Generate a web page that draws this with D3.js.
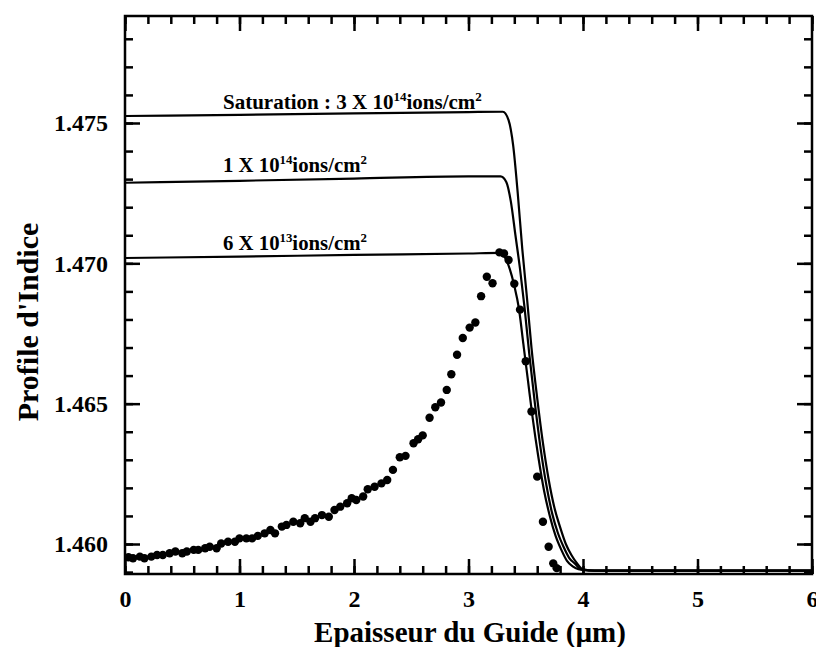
<!DOCTYPE html>
<html><head><meta charset="utf-8">
<script src="https://cdn.jsdelivr.net/npm/d3@7"></script>
<style>
body{margin:0;background:#fff;}
svg{display:block;}
text{font-family:"Liberation Serif","Times New Roman",serif;font-weight:bold;fill:#000;}
</style></head>
<body><svg id="c" width="816" height="647"></svg>
<script>
// ---------- data ----------
const xTickValues = [0, 1, 2, 3, 4, 5, 6];
const yTickValues = [1.460, 1.465, 1.470, 1.475];
const yTickLabels = ["1.460", "1.465", "1.470", "1.475"];
const xLimits = [0, 6];
const yLimits = [1.458931, 1.478812];

const measX = [0.03,0.07,0.13,0.17,0.23,0.28,0.33,0.39,0.44,0.50,0.54,0.60,0.64,0.70,0.74,0.80,0.84,0.90,0.96,1.00,
  1.06,1.11,1.16,1.22,1.27,1.31,1.37,1.41,1.47,1.53,1.57,1.62,1.66,1.72,1.78,1.83,1.88,1.94,1.98,2.02,
  2.08,2.12,2.18,2.24,2.29,2.34,2.40,2.45,2.52,2.56,2.60,2.66,2.71,2.76,2.81,2.85,2.90,2.95,3.01,3.06,
  3.11,3.16,3.21,3.27,3.31,3.35,3.40,3.45,3.50,3.55,3.60,3.65,3.70,3.74,3.77];
const measY = [1.45953,1.45949,1.45955,1.45949,1.45955,1.45961,1.45961,1.45967,1.45973,1.45967,1.45973,1.45979,1.45979,1.45985,1.45990,1.45985,1.46002,1.46008,1.46008,1.46020,
  1.46020,1.46020,1.46029,1.46038,1.46050,1.46038,1.46062,1.46068,1.46079,1.46074,1.46092,1.46079,1.46092,1.46103,1.46097,1.46121,1.46133,1.46145,1.46163,1.46157,
  1.46169,1.46195,1.46204,1.46216,1.46228,1.46264,1.46309,1.46314,1.46359,1.46373,1.46387,1.46450,1.46487,1.46504,1.46549,1.46605,1.46674,1.46734,1.46771,1.46789,
  1.46883,1.46952,1.46929,1.47039,1.47035,1.47012,1.46927,1.46835,1.46651,1.46472,1.46240,1.46079,1.45990,1.45931,1.45914];

const satX = [0,1,2,3,3.30,3.35,3.39,3.43,3.47,3.51,3.55,3.60,3.65,3.70,3.75,3.80,3.85,3.90,3.95,4.00,4.10,6];
const satY = [1.47525,1.47529,1.47534,1.47539,1.47540,1.47510,1.47420,1.47250,1.47050,1.46880,1.46700,1.46520,1.46360,1.46230,1.46130,1.46060,1.46000,1.45960,1.45930,1.45910,1.45905,1.45905];
const e14X = [0,1,2,3,3.28,3.33,3.37,3.41,3.45,3.49,3.53,3.58,3.63,3.68,3.73,3.78,3.83,3.88,3.93,3.98,4.10,6];
const e14Y = [1.47287,1.47294,1.47302,1.47310,1.47310,1.47290,1.47220,1.47100,1.46980,1.46840,1.46680,1.46500,1.46340,1.46210,1.46110,1.46040,1.45990,1.45950,1.45930,1.45910,1.45905,1.45905];
const e13X = [0,1,2,3,3.27,3.32,3.36,3.40,3.44,3.48,3.52,3.56,3.61,3.66,3.71,3.76,3.81,3.86,3.91,3.96,4.05,6];
const e13Y = [1.47019,1.47024,1.47030,1.47035,1.47037,1.47020,1.46980,1.46920,1.46840,1.46710,1.46580,1.46450,1.46310,1.46190,1.46100,1.46030,1.45980,1.45940,1.45920,1.45910,1.45905,1.45905];

// ---------- layout ----------
const svg = d3.select("#c");
const L = 125, R = 812, T = 16, B = 574;
const x = d3.scaleLinear().domain(xLimits).range([L, R]);
const y = d3.scaleLinear().domain(yLimits).range([B, T]);

const minorX = d3.range(0, 31).map(i => +(i * 0.2).toFixed(2));
const minorY = d3.range(0, 20).map(i => +(1.459 + i * 0.001).toFixed(3));

// frame
svg.append("rect").attr("x",L).attr("y",T).attr("width",R-L).attr("height",B-T)
  .attr("fill","none").attr("stroke","#000").attr("stroke-width",2.5);

// tick labels via d3 axes
const xb = svg.append("g").attr("transform",`translate(0,${B})`)
  .call(d3.axisBottom(x).tickValues(xTickValues).tickSize(0).tickPadding(16).tickFormat(d3.format("d")));
xb.select(".domain").remove();
xb.selectAll("text").style("font-size","24px").style("font-family","Liberation Serif").style("font-weight","bold");
const yl = svg.append("g").attr("transform",`translate(${L},0)`)
  .call(d3.axisLeft(y).tickValues(yTickValues).tickSize(0).tickPadding(17)
    .tickFormat((d,i) => yTickLabels[i]));
yl.select(".domain").remove();
yl.selectAll("text").style("font-size","24px").style("font-family","Liberation Serif").style("font-weight","bold");

// curves
const line = d3.line().x(d => x(d[0])).y(d => y(d[1])).curve(d3.curveMonotoneX);
[[satX,satY],[e14X,e14Y],[e13X,e13Y]].forEach(([xs,ys]) => {
  svg.append("path").datum(xs.map((v,i)=>[v,ys[i]]))
    .attr("d",line).attr("fill","none").attr("stroke","#000").attr("stroke-width",2.2);
});

// dots
svg.append("g").selectAll("circle").data(measX.map((v,i)=>[v,measY[i]])).join("circle")
  .attr("cx",d=>x(d[0])).attr("cy",d=>y(d[1])).attr("r",4.2).attr("fill","#000");

// inward ticks on all four sides, drawn last with d3 axes
function tickAxis(axisFn, scale, vals, len, tr){
  const g = svg.append("g").attr("transform", tr)
    .call(axisFn(scale).tickValues(vals).tickSizeInner(-len).tickSizeOuter(0).tickFormat(() => ""));
  g.select(".domain").remove();
  g.selectAll(".tick line").attr("stroke","#000").attr("stroke-width",2.5);
  return g;
}
tickAxis(d3.axisBottom, x, minorX, 8, `translate(0,${B})`);
tickAxis(d3.axisBottom, x, xTickValues, 15, `translate(0,${B})`);
tickAxis(d3.axisTop, x, minorX, 8, `translate(0,${T})`);
tickAxis(d3.axisTop, x, xTickValues, 15, `translate(0,${T})`);
tickAxis(d3.axisLeft, y, minorY, 8, `translate(${L},0)`);
tickAxis(d3.axisLeft, y, yTickValues, 15, `translate(${L},0)`);
tickAxis(d3.axisRight, y, minorY, 8, `translate(${R},0)`);
tickAxis(d3.axisRight, y, yTickValues, 15, `translate(${R},0)`);

// annotations
function label(x0, yb, parts, target){
  const t = svg.append("text").attr("x",x0).attr("y",yb).style("font-size","21px");
  parts.forEach(p => {
    if (p.sup) t.append("tspan").attr("dy",-8).style("font-size","13px").text(p.s);
    else t.append("tspan").attr("dy", p.down ? 8 : 0).text(p.s);
  });
  const w = t.node().getBBox().width;
  t.attr("transform",`translate(${x0},0) scale(${target/w},1) translate(${-x0},0)`);
}
label(223,109,[{s:"Saturation : 3 X 10"},{s:"14",sup:true},{s:"ions/cm",down:true},{s:"2",sup:true}],259);
label(223,172,[{s:"1 X 10"},{s:"14",sup:true},{s:"ions/cm",down:true},{s:"2",sup:true}],144);
label(223,250,[{s:"6 X 10"},{s:"13",sup:true},{s:"ions/cm",down:true},{s:"2",sup:true}],144);

// axis titles
svg.append("text").attr("x",470).attr("y",642).attr("text-anchor","middle")
  .style("font-size","29px").text("Epaisseur du Guide (µm)");
svg.append("text").attr("transform","translate(38,322) rotate(-90)").attr("text-anchor","middle")
  .style("font-size","30px").text("Profile d'Indice");
</script></body></html>
